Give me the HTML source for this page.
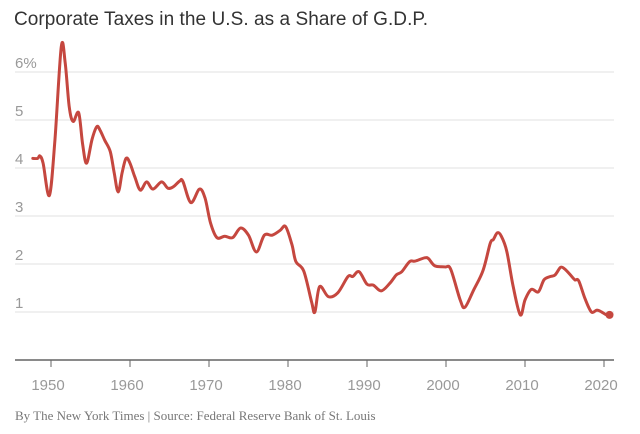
<!DOCTYPE html>
<html><head><meta charset="utf-8"><style>
html,body{margin:0;padding:0;background:#fff;width:640px;height:434px;overflow:hidden}
svg{display:block}
.t{font-family:"Liberation Sans",sans-serif}
</style></head><body>
<svg id="chart" width="640" height="434">
<text class="t" x="14" y="25" font-size="19" fill="#333" textLength="414">Corporate Taxes in the U.S. as a Share of G.D.P.</text>
<g id="grid"></g>
<g id="xaxis"></g>
<path id="line" fill="none" stroke="#c5473f" stroke-width="3" stroke-linejoin="round" stroke-linecap="round"></path>
<circle id="enddot" r="4" fill="#c5473f"></circle>
<text x="15" y="420" font-family="'Liberation Serif',serif" font-size="13" fill="#777">By The New York Times | Source: Federal Reserve Bank of St. Louis</text>
</svg>
<script>
const years=[1947.7,1948.3,1948.6,1949.0,1949.8,1950.5,1951.3,1951.8,1952.3,1952.8,1953.5,1954.0,1954.5,1955.2,1955.8,1956.2,1956.8,1957.5,1958.0,1958.5,1959.0,1959.5,1960,1960.6,1961.3,1962.1,1962.9,1964,1964.8,1965.5,1966.3,1966.7,1967.7,1968.8,1969.5,1970.2,1971,1972,1973,1974,1975,1976,1977,1978,1979,1979.7,1980.5,1981,1982,1983,1983.4,1984.0,1985.1,1986.3,1987.6,1988.2,1989,1990,1990.8,1991.8,1992.9,1993.7,1994.4,1995.4,1996.1,1997.3,1997.8,1998.6,1999.9,2000.6,2001.8,2002.4,2003.5,2004.7,2005.6,2006,2006.5,2007,2007.7,2008.5,2009.4,2010,2010.8,2011.7,2012.4,2013.2,2013.8,2014.5,2015,2015.6,2016.3,2016.8,2017.6,2018.4,2019.1,2019.7,2020.3,2020.7];
const values=[4.2,4.2,4.25,4.1,3.43,4.6,6.53,6.19,5.28,4.97,5.15,4.5,4.1,4.6,4.86,4.79,4.58,4.34,3.9,3.5,3.9,4.2,4.1,3.82,3.54,3.71,3.56,3.71,3.58,3.61,3.73,3.72,3.28,3.56,3.37,2.85,2.55,2.58,2.55,2.75,2.6,2.25,2.6,2.6,2.7,2.78,2.4,2.05,1.85,1.2,1.0,1.53,1.32,1.4,1.74,1.74,1.84,1.58,1.56,1.44,1.6,1.77,1.84,2.05,2.06,2.13,2.11,1.96,1.94,1.89,1.25,1.1,1.46,1.87,2.43,2.51,2.65,2.58,2.26,1.53,0.94,1.25,1.47,1.42,1.67,1.74,1.77,1.93,1.9,1.8,1.67,1.65,1.28,1.0,1.04,1.0,0.94,0.94];
const yTicks=[1,2,3,4,5,6];
const yTickLabels=["1","2","3","4","5","6%"];
const xTicks=[1950,1960,1970,1980,1990,2000,2010,2020];
const NS="http://www.w3.org/2000/svg";
function xs(y){return 51+(y-1950)*7.9;}
function ys(v){return 360-48*v;}
const grid=document.getElementById('grid');
yTicks.forEach((t,i)=>{
  const l=document.createElementNS(NS,'line');
  l.setAttribute('x1',15);l.setAttribute('x2',614);
  l.setAttribute('y1',ys(t));l.setAttribute('y2',ys(t));
  l.setAttribute('stroke','#e2e2e2');l.setAttribute('stroke-width','1');
  
  
  grid.appendChild(l);
  const tx=document.createElementNS(NS,'text');
  tx.setAttribute('x',15);tx.setAttribute('y',ys(t)-4);
  tx.setAttribute('class','t');tx.setAttribute('font-size','15');tx.setAttribute('fill','#999');
  tx.textContent=yTickLabels[i];
  
  
  grid.appendChild(tx);
});
const xa=document.getElementById('xaxis');
const ax=document.createElementNS(NS,'line');
ax.setAttribute('x1',15);ax.setAttribute('x2',614);ax.setAttribute('y1',360);ax.setAttribute('y2',360);
ax.setAttribute('stroke','#444');ax.setAttribute('stroke-width','1.2');


xa.appendChild(ax);
xTicks.forEach(t=>{
  const l=document.createElementNS(NS,'line');
  l.setAttribute('x1',xs(t));l.setAttribute('x2',xs(t));l.setAttribute('y1',360);l.setAttribute('y2',367);
  l.setAttribute('stroke','#666');l.setAttribute('stroke-width','1');
  
  
  xa.appendChild(l);
  const tx=document.createElementNS(NS,'text');
  tx.setAttribute('x',xs(t)-3);tx.setAttribute('y',390);tx.setAttribute('text-anchor','middle');
  tx.setAttribute('class','t');tx.setAttribute('font-size','15');tx.setAttribute('fill','#999');
  tx.textContent=t;
  
  
  xa.appendChild(tx);
});
const pts=years.map((y,i)=>[xs(y),ys(values[i])]);
let d='M'+pts[0][0].toFixed(1)+','+pts[0][1].toFixed(1);
for(let i=0;i<pts.length-1;i++){
  const p0=pts[Math.max(0,i-1)],p1=pts[i],p2=pts[i+1],p3=pts[Math.min(pts.length-1,i+2)];
  const c1=[p1[0]+(p2[0]-p0[0])/6,p1[1]+(p2[1]-p0[1])/6];
  const c2=[p2[0]-(p3[0]-p1[0])/6,p2[1]-(p3[1]-p1[1])/6];
  d+='C'+c1[0].toFixed(1)+','+c1[1].toFixed(1)+' '+c2[0].toFixed(1)+','+c2[1].toFixed(1)+' '+p2[0].toFixed(1)+','+p2[1].toFixed(1);
}
document.getElementById('line').setAttribute('d',d);
const dot=document.getElementById('enddot');
dot.setAttribute('cx',xs(years[years.length-1]));dot.setAttribute('cy',ys(values[values.length-1]));
</script>
</body></html>
